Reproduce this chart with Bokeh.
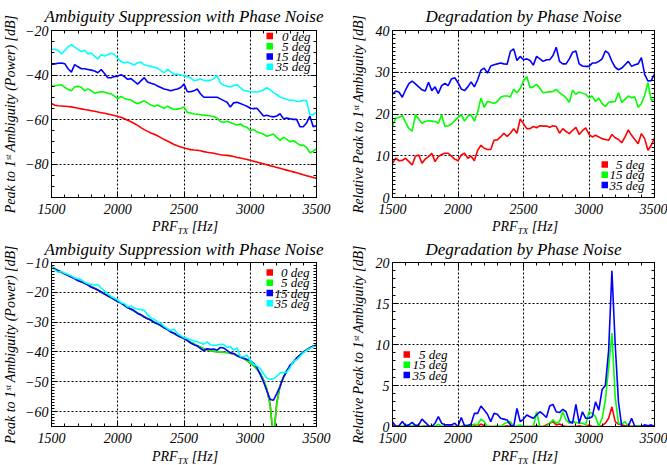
from bokeh.plotting import figure
from bokeh.models import (Range1d, FixedTicker, LinearAxis, Label, BoxAnnotation, Div,
                          CustomJSTickFormatter)
from bokeh.layouts import column, row
from bokeh.embed import file_html
from bokeh.resources import INLINE

# ---------------- data ----------------
freq = list(range(1500, 3501, 25))  # PRF_TX [Hz]

x_ticks = [1500, 2000, 2500, 3000, 3500]
x_tick_labels = ["1500", "2000", "2500", "3000", "3500"]

# Top-left: Ambiguity Suppression with Phase Noise [dB]
tl_0deg = [-52.8, -53.6, -53.8, -53.9, -54.0, -54.1, -54.3, -54.6, -54.9, -55.2,
           -55.5, -55.7, -56.0, -56.3, -56.6, -56.9, -57.2, -57.5, -57.8, -58.2,
           -58.6, -59.0, -59.6, -60.3, -61.0, -61.8, -62.6, -63.6, -64.5, -65.3,
           -66.0, -66.6, -67.3, -68.1, -69.0, -69.6, -70.4, -71.2, -71.8, -72.3,
           -72.8, -73.1, -73.5, -73.7, -73.8, -74.0, -74.4, -74.7, -74.9, -75.1,
           -75.5, -75.8, -76.0, -76.1, -76.3, -76.6, -77.0, -77.3, -77.6, -77.9,
           -78.3, -78.7, -79.1, -79.5, -79.9, -80.3, -80.7, -81.1, -81.5, -81.9,
           -82.3, -82.7, -83.1, -83.5, -83.9, -84.3, -84.8, -85.2, -85.6, -86.0,
           -86.5]
tl_5deg = [-44.9, -44.8, -44.6, -44.4, -45.5, -46.5, -47.1, -45.3, -45.0, -45.5,
           -47.1, -46.2, -47.0, -48.1, -47.8, -47.5, -47.6, -48.2, -48.5, -49.5,
           -50.7, -49.6, -50.5, -51.0, -51.2, -52.2, -52.9, -52.2, -51.6, -52.5,
           -53.5, -54.0, -53.5, -54.2, -55.0, -54.0, -54.8, -55.5, -55.3, -55.0,
           -54.3, -56.8, -57.0, -57.5, -57.6, -57.8, -58.0, -58.2, -58.4, -58.6,
           -59.3, -61.0, -61.2, -60.8, -61.3, -62.0, -62.4, -62.0, -63.0, -63.5,
           -64.9, -64.5, -65.5, -66.0, -66.5, -67.5, -67.0, -66.5, -68.0, -69.3,
           -68.0, -68.8, -70.0, -69.5, -70.5, -71.5, -71.5, -72.5, -74.9, -74.2,
           -73.0]
tl_15deg = [-35.3, -35.0, -34.7, -34.6, -34.9, -37.2, -38.7, -35.3, -36.3, -37.2,
            -37.2, -37.5, -37.8, -38.2, -39.0, -37.5, -39.3, -41.2, -41.2, -40.7,
            -40.4, -39.9, -40.7, -41.9, -41.6, -42.8, -44.1, -42.6, -41.2, -43.1,
            -43.7, -44.1, -44.9, -45.6, -46.3, -46.6, -47.1, -46.6, -46.3, -45.6,
            -44.1, -47.5, -47.5, -47.1, -46.3, -48.5, -50.0, -50.0, -50.0, -50.0,
            -50.0, -50.7, -51.5, -52.2, -54.4, -52.5, -52.2, -52.8, -53.4, -54.0,
            -54.9, -55.1, -54.9, -56.6, -58.4, -58.1, -58.5, -58.8, -58.4, -57.4,
            -59.6, -59.3, -59.6, -59.9, -59.9, -63.2, -63.2, -61.5, -58.5, -63.2,
            -62.8]
tl_35deg = [-28.3, -28.5, -29.0, -30.5, -29.0, -27.3, -26.4, -27.5, -28.5, -29.5,
            -28.9, -30.5, -30.2, -31.5, -32.8, -30.8, -31.5, -30.8, -30.2, -30.8,
            -32.5, -34.0, -34.5, -34.2, -34.8, -35.5, -34.5, -34.2, -35.4, -35.8,
            -36.0, -36.5, -36.9, -38.0, -39.0, -37.5, -38.5, -39.7, -39.5, -40.0,
            -40.3, -40.7, -41.3, -42.5, -42.2, -41.8, -42.4, -42.5, -42.4, -41.6,
            -40.3, -43.5, -44.6, -45.0, -45.4, -44.7, -44.3, -45.7, -46.9, -47.2,
            -47.5, -47.6, -47.6, -47.3, -46.6, -45.7, -46.6, -47.9, -48.7, -49.9,
            -50.4, -51.0, -51.3, -51.3, -51.8, -51.9, -51.3, -51.6, -57.8, -57.8,
            -56.8]

# Top-right: Degradation by Phase Noise [dB]
tr_5deg = [8.2, 9.4, 8.8, 8.9, 9.4, 8.6, 7.8, 9.9, 10.2, 8.2,
           9.2, 9.8, 10.6, 8.6, 9.8, 10.3, 10.6, 10.6, 9.9, 9.2,
           8.8, 10.2, 10.6, 9.4, 9.9, 8.8, 11.3, 12.5, 11.8, 11.5,
           11.5, 13.7, 13.8, 14.5, 15.4, 14.6, 15.4, 16.5, 15.4, 18.8,
           17.7, 16.5, 16.5, 17.0, 16.7, 17.2, 17.1, 17.1, 16.8, 17.2,
           17.0, 15.4, 16.5, 15.8, 15.3, 16.1, 16.8, 15.1, 16.0, 16.7,
           15.1, 14.5, 14.9, 14.5, 14.1, 13.9, 13.7, 15.1, 14.3, 13.9,
           13.1, 14.5, 16.2, 14.9, 13.9, 12.9, 15.3, 14.1, 11.3, 12.5,
           14.3]
tr_15deg = [17.2, 19.0, 19.2, 19.6, 18.0, 16.5, 15.9, 19.8, 18.8, 17.8,
            18.2, 18.4, 18.3, 18.2, 17.8, 19.8, 17.0, 17.2, 17.6, 18.4,
            19.2, 19.8, 18.3, 19.5, 19.8, 18.3, 20.4, 23.8, 21.6, 23.0,
            22.8, 22.5, 23.0, 24.0, 24.3, 24.3, 24.1, 25.9, 25.1, 26.1,
            27.9, 29.0, 26.3, 26.5, 27.1, 26.1, 25.1, 25.2, 25.3, 25.4,
            25.9, 25.1, 24.5, 23.9, 22.8, 25.7, 24.7, 25.3, 25.0, 24.7,
            23.9, 24.3, 23.0, 23.8, 22.5, 21.8, 22.8, 22.9, 23.0, 25.1,
            22.8, 23.5, 24.3, 23.9, 24.1, 21.6, 22.5, 24.5, 27.5, 23.3,
            23.5]
tr_35deg = [24.7, 25.5, 25.2, 24.0, 25.8, 27.3, 27.9, 27.2, 26.5, 25.8,
            25.5, 27.6, 25.6, 26.5, 24.9, 26.8, 27.3, 26.8, 28.4, 28.7,
            27.5, 26.0, 25.6, 26.5, 27.7, 26.5, 28.2, 30.5, 31.0, 29.8,
            31.5, 31.8, 32.0, 32.2, 32.0, 31.9, 35.0, 35.6, 32.8, 33.8,
            33.0, 33.2, 32.8, 31.7, 33.8, 33.2, 32.6, 33.0, 33.0, 34.0,
            36.0, 32.6, 32.0, 32.0, 33.2, 34.8, 35.1, 32.0, 31.5, 31.4,
            31.4, 32.2, 32.2, 32.6, 33.2, 35.1, 34.5, 32.6, 31.2, 30.6,
            31.0, 31.8, 32.6, 31.4, 31.8, 32.0, 33.5, 29.5, 27.9, 28.0,
            29.6]

# Bottom-left: Ambiguity Suppression with Phase Noise [dB]
bl_0deg = [-11.5, -12.1, -12.7, -13.3, -13.8, -14.3, -14.8, -15.3, -15.8, -16.4,
           -17.0, -17.5, -18.0, -18.6, -19.3, -19.9, -20.5, -21.2, -21.8, -22.4,
           -23.0, -23.6, -24.3, -25.0, -25.7, -26.3, -27.0, -27.6, -28.2, -28.8,
           -29.4, -30.0, -30.6, -31.2, -31.8, -32.5, -33.2, -33.8, -34.4, -35.0,
           -35.5, -36.1, -36.7, -37.3, -37.9, -38.4, -38.9, -39.3, -39.6, -39.8,
           -39.9, -40.0, -40.1, -40.2, -40.4, -40.7, -41.1, -41.6, -42.2, -42.9,
           -43.7, -44.6, -45.7, -47.2, -49.3, -52.5, -57.5, -70.0, -57.0, -51.5,
           -48.5, -46.4, -44.8, -43.4, -42.2, -41.1, -40.1, -39.3, -38.6, -38.1,
           -37.7]
bl_5deg = [-11.6, -12.0, -12.8, -13.2, -13.9, -14.2, -14.9, -15.3, -15.9, -16.3,
           -17.1, -17.4, -18.1, -18.6, -19.2, -20.0, -20.5, -21.1, -21.9, -22.4,
           -23.1, -23.6, -24.2, -25.1, -25.6, -26.4, -26.9, -27.6, -28.3, -28.8,
           -29.3, -30.1, -30.6, -31.1, -31.9, -32.4, -33.2, -33.9, -34.3, -35.0,
           -35.6, -36.0, -36.8, -37.2, -38.0, -38.3, -39.0, -39.2, -39.7, -39.7,
           -40.0, -39.9, -40.2, -40.1, -40.5, -40.6, -41.2, -41.5, -42.3, -42.8,
           -43.8, -44.5, -45.9, -47.0, -49.5, -52.2, -58.0, -68.0, -57.5, -51.2,
           -48.7, -46.2, -44.9, -43.3, -42.3, -41.0, -40.2, -39.2, -38.7, -38.0,
           -37.8]
bl_15deg = [-11.4, -12.2, -12.8, -13.2, -13.8, -14.4, -14.9, -15.5, -16.1, -16.5,
            -17.0, -17.6, -18.3, -18.7, -19.2, -19.9, -20.6, -21.2, -21.7, -22.4,
            -23.1, -23.6, -24.4, -25.2, -25.6, -26.2, -27.1, -27.5, -28.3, -28.9,
            -29.3, -30.1, -30.5, -31.1, -31.9, -32.4, -33.3, -33.7, -34.5, -35.0,
            -35.4, -36.2, -37.0, -37.6, -38.0, -38.9, -39.6, -38.9, -39.1, -39.0,
            -39.4, -38.5, -38.7, -39.5, -40.3, -40.5, -41.3, -41.8, -42.1, -42.5,
            -42.9, -43.8, -45.2, -47.5, -50.0, -53.0, -55.9, -56.2, -54.0, -51.6,
            -48.5, -46.5, -44.4, -43.5, -42.0, -41.1, -40.0, -39.4, -38.6, -38.1,
            -37.7]
bl_35deg = [-11.3, -12.5, -13.3, -13.0, -13.6, -14.0, -14.5, -15.2, -15.4, -15.8,
            -16.6, -17.1, -17.3, -17.6, -17.4, -18.6, -19.6, -20.5, -21.4, -22.0,
            -22.6, -23.5, -23.8, -24.9, -24.6, -25.3, -25.6, -25.8, -26.0, -27.5,
            -28.6, -29.0, -30.0, -30.4, -31.4, -32.2, -32.8, -32.4, -33.8, -34.5,
            -35.2, -35.5, -35.9, -36.3, -36.6, -37.0, -37.4, -36.6, -37.6, -37.8,
            -37.7, -37.4, -37.5, -38.5, -38.2, -39.4, -38.6, -41.5, -41.6, -41.0,
            -43.0, -44.1, -44.7, -45.5, -47.3, -48.7, -49.2, -49.0, -48.2, -47.1,
            -46.8, -46.9, -45.3, -43.2, -42.6, -41.5, -40.3, -39.5, -38.8, -38.2,
            -37.6]

# Bottom-right: Degradation by Phase Noise [dB]
br_5deg = [0.2, 0.1, 0.0, 0.0, 0.0, 0.0, 0.0, 0.0, 0.0, 0.0,
           0.1, 0.0, 0.0, 0.0, 0.0, 0.0, 0.0, 0.0, 0.1, 0.0,
           0.0, 0.0, 0.2, 0.0, 0.2, 0.1, 0.0, 0.3, 0.1, 0.0,
           0.0, 0.0, 0.0, 0.0, 0.0, 0.1, 0.0, 0.0, 0.0, 0.0,
           0.0, 0.0, 0.0, 0.0, 0.1, 0.0, 0.0, 0.2, 0.4, 0.6,
           0.2, 0.3, 0.1, 0.0, 0.0, 0.0, 0.0, 0.1, 0.0, 0.0,
           0.2, 0.0, 0.0, 0.0, 0.1, 0.4, 1.0, 2.4, 0.6, 0.3,
           0.2, 0.1, 0.1, 0.0, 0.1, 0.0, 0.0, 0.0, 0.0, 0.0,
           0.0]
br_15deg = [0.0, 0.0, 0.1, 0.0, 0.1, 0.2, 0.0, 0.2, 0.0, 0.0,
            0.1, 0.0, 0.0, 0.0, 0.3, 0.0, 0.0, 0.0, 0.0, 0.0,
            0.0, 0.0, 0.1, 0.2, 0.0, 0.3, 0.2, 0.9, 0.6, 0.0,
            0.0, 0.0, 0.1, 0.0, 0.3, 0.5, 0.6, 0.0, 0.0, 0.2,
            0.0, 0.0, 0.0, 0.0, 1.8, 0.0, 0.0, 0.0, 0.4, 0.8,
            0.4, 0.6, 1.8, 0.8, 0.4, 0.6, 0.5, 0.4, 0.4, 0.2,
            1.8, 1.6, 1.2, 0.0, 1.0, 3.2, 7.2, 11.4, 3.6, 0.4,
            0.3, 0.6, 0.0, 0.0, 0.0, 0.1, 0.1, 0.1, 0.1, 0.0,
            0.0]
br_35deg = [0.6, 0.0, 0.1, 0.6, 0.1, 0.2, 0.5, 0.1, 0.2, 0.9,
            0.5, 0.1, 0.0, 0.4, 1.2, 0.4, 0.2, 0.2, 0.2, 0.4,
            0.0, 1.1, 0.1, 0.1, 0.3, 1.6, 1.6, 2.5, 2.0, 1.5,
            0.6, 1.6, 1.5, 1.0, 0.9, 0.8, 0.2, 0.0, 2.2, 0.6,
            0.9, 1.4, 1.2, 1.0, 1.4, 1.8, 1.5, 1.1, 2.5, 2.7,
            1.8, 1.7, 2.1, 1.8, 0.6, 0.4, 2.7, 0.4, 1.8, 1.0,
            1.0, 1.2, 3.0, 2.0, 4.5, 5.0, 9.3, 19.0, 10.0, 3.0,
            0.0, 0.0, 0.0, 1.0, 0.0, 0.0, 0.0, 0.2, 0.1, 0.2,
            0.0]

RED, GREEN, BLUE, CYAN = "#ff0000", "#00ff00", "#0000ff", "#00ffff"
FONT = "Liberation Serif"

TITLE_SUPP = "Ambiguity Suppression with Phase Noise"
TITLE_DEGR = "Degradation by Phase Noise"
YLAB_SUPP = "Peak to 1\u02e2\u1d57 Ambiguity (Power) [dB]"
YLAB_DEGR = "Relative Peak to 1\u02e2\u1d57 Ambiguity [dB]"


def style_axis(ax, labels=True, standoff=3):
    ax.axis_line_color = "black"
    ax.major_tick_line_color = "black"
    ax.minor_tick_line_color = "black"
    ax.major_tick_in = 6
    ax.major_tick_out = 0
    ax.minor_tick_in = 3
    ax.minor_tick_out = 0
    ax.major_label_text_font = FONT
    ax.major_label_text_font_style = "italic"
    ax.major_label_text_color = "black"
    if labels:
        ax.major_label_text_font_size = "14px"
        ax.major_label_standoff = standoff
    else:
        ax.major_label_text_font_size = "1px"
        ax.major_label_standoff = 0
        ax.formatter = CustomJSTickFormatter(code="return ''")


def make_panel(title, ylabel, yr, ymajor, ystep, width, height, bl, br, bt, bb,
               series, legend_labels, legend_sq_x, legend_txt_x, legend_y0,
               ylab_standoff, title_standoff):
    p = figure(width=width, height=height, x_range=Range1d(1500, 3500),
               y_range=Range1d(*yr), output_backend="svg", toolbar_location=None,
               min_border_left=bl, min_border_right=br, min_border_top=bt,
               min_border_bottom=bb)
    p.background_fill_color = "white"
    p.border_fill_color = "white"
    p.outline_line_color = "black"
    p.outline_line_width = 1

    p.title.text = title
    p.title.text_font = FONT
    p.title.text_font_style = "italic"
    p.title.text_font_size = "17px"
    p.title.align = "center"
    p.title.text_color = "black"
    p.title.standoff = title_standoff

    xminor = list(range(1500, 3501, 100))
    yminor = []
    v = yr[0]
    while v <= yr[1] + 1e-9:
        yminor.append(round(v, 3))
        v += ystep

    p.xaxis.ticker = FixedTicker(ticks=x_ticks, minor_ticks=xminor)
    p.yaxis.ticker = FixedTicker(ticks=ymajor, minor_ticks=yminor)
    p.xaxis.major_label_overrides = dict(zip(x_ticks, x_tick_labels))
    for ax in p.xaxis:
        style_axis(ax, True, 6)
    for ax in p.yaxis:
        style_axis(ax, True, 3)
    p.yaxis.axis_label = ylabel
    p.yaxis.axis_label_text_font = FONT
    p.yaxis.axis_label_text_font_style = "italic"
    p.yaxis.axis_label_text_font_size = "14px"
    p.yaxis.axis_label_text_color = "black"
    p.yaxis.axis_label_standoff = ylab_standoff

    top = LinearAxis(ticker=FixedTicker(ticks=x_ticks, minor_ticks=xminor))
    style_axis(top, False)
    p.add_layout(top, "above")
    right = LinearAxis(ticker=FixedTicker(ticks=ymajor, minor_ticks=yminor))
    style_axis(right, False)
    p.add_layout(right, "right")

    p.xgrid.ticker = FixedTicker(ticks=[t for t in x_ticks if 1500 < t < 3500])
    p.ygrid.ticker = FixedTicker(ticks=[t for t in ymajor if yr[0] < t < yr[1]])
    for g in (p.xgrid, p.ygrid):
        g.grid_line_color = "black"
        g.grid_line_dash = "2 2"
        g.grid_line_width = 1.1

    for c, ys in series:
        p.line(freq, ys, line_color=c, line_width=1.6)

    # legend: coloured squares + labels (frame-relative screen units, y up)
    for k, ((c, _), lab) in enumerate(zip(series, legend_labels)):
        cy = legend_y0 - k * 10.3
        p.add_layout(BoxAnnotation(left=legend_sq_x, right=legend_sq_x + 6.5,
                                   bottom=cy - 3.2, top=cy + 3.3,
                                   left_units="screen", right_units="screen",
                                   bottom_units="screen", top_units="screen",
                                   fill_color=c, fill_alpha=1.0, line_color=None))
        p.add_layout(Label(x=legend_txt_x, y=cy, x_units="screen", y_units="screen",
                           text=lab, text_font=FONT, text_font_style="italic",
                           text_font_size="13px", text_color="black",
                           text_align="right", text_baseline="middle"))
    return p


def xlabel_div(width, height, left, pad_top):
    html = ('<div style="margin-left:%dpx; padding-top:%dpx; white-space:nowrap; '
            'font-family:\'Liberation Serif\', serif; font-style:italic; font-size:14px; '
            'line-height:14px; color:black;">PRF<span style="font-size:9px; '
            'position:relative; top:3px;">TX</span> [Hz]</div>') % (left, pad_top)
    return Div(text=html, width=width, height=height, margin=0)


p_tl = make_panel(TITLE_SUPP, YLAB_SUPP, (-95, -20), [-80, -60, -40, -20], 5,
                  340, 218, 51, 24, 28, 21,
                  [(RED, tl_0deg), (GREEN, tl_5deg), (BLUE, tl_15deg), (CYAN, tl_35deg)],
                  ["0 deg", "5 deg", "15 deg", "35 deg"], 215, 259, 161.5, 4, 9)
p_tr = make_panel(TITLE_DEGR, YLAB_DEGR, (0, 40), [0, 10, 20, 30, 40], 1,
                  327, 218, 52, 13, 28, 21,
                  [(RED, tr_5deg), (GREEN, tr_15deg), (BLUE, tr_35deg)],
                  ["5 deg", "15 deg", "35 deg"], 209, 252, 33, 7, 9)
p_bl = make_panel(TITLE_SUPP, YLAB_SUPP, (-65, -10), [-60, -50, -40, -30, -20, -10], 1,
                  340, 214, 51, 24, 23, 22,
                  [(RED, bl_0deg), (GREEN, bl_5deg), (BLUE, bl_15deg), (CYAN, bl_35deg)],
                  ["0 deg", "5 deg", "15 deg", "35 deg"], 215, 258, 154, 4, 7)
p_br = make_panel(TITLE_DEGR, YLAB_DEGR, (0, 20), [0, 5, 10, 15, 20], 1,
                  327, 214, 52, 13, 23, 22,
                  [(RED, br_5deg), (GREEN, br_15deg), (BLUE, br_35deg)],
                  ["5 deg", "15 deg", "35 deg"], 11, 55, 72, 7, 7)

layout = column(
    row(p_tl, p_tr),
    row(xlabel_div(340, 16, 152, 2), xlabel_div(327, 16, 152, 2)),
    row(p_bl, p_br),
    row(xlabel_div(340, 17, 152, 2), xlabel_div(327, 17, 152, 2)),
)
open("out.html", "w").write(file_html(layout, INLINE))
